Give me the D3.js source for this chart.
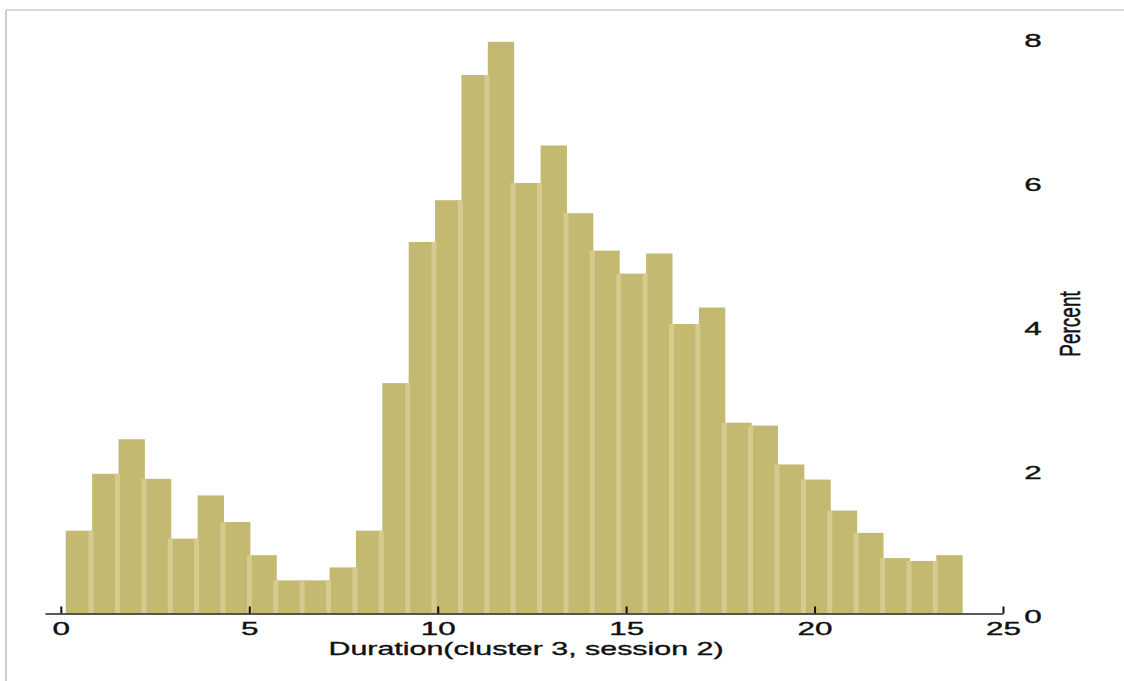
<!DOCTYPE html>
<html>
<head>
<meta charset="utf-8">
<script src="https://cdn.jsdelivr.net/npm/d3@7/dist/d3.min.js"></script>
<style>
  html, body { margin: 0; padding: 0; background: #fff; }
  svg { display: block; }
  text { font-family: "Liberation Sans", Arial, Helvetica, sans-serif; fill: #111; stroke: #111; stroke-width: 0.35px; }
</style>
</head>
<body>
<svg id="chart" width="1124" height="681"></svg>
<script>
// ---- data ----
const binStart = 0.13;          // left edge of first bin (Duration units)
const binWidth = 0.70;          // bin width (Duration units)
const percents = [1.15, 1.94, 2.42, 1.87, 1.04, 1.64, 1.27, 0.81, 0.46, 0.46,
                  0.64, 1.15, 3.20, 5.16, 5.74, 7.48, 7.94, 5.98, 6.50, 5.56,
                  5.04, 4.72, 5.00, 4.02, 4.25, 2.65, 2.61, 2.07, 1.86, 1.43,
                  1.12, 0.77, 0.73, 0.81];
const xTicks = [0, 5, 10, 15, 20, 25];
const yTicks = [0, 2, 4, 6, 8];
const xTitle = "Duration(cluster 3, session 2)";
const yTitle = "Percent";

// ---- layout ----
const svg = d3.select("#chart");
const x = d3.scaleLinear().domain([-0.42, 25]).range([45, 1003]);
const y = d3.scaleLinear().domain([0, 8]).range([613.5, 37.5]);
const stretch = 1.7;   // reference image is horizontally stretched
const barColor = "#c4b970";
const stripColor = "#d5cb8e";

// outer frame (light gray)
svg.append("line").attr("x1", 6).attr("x2", 6).attr("y1", 10).attr("y2", 681)
  .attr("stroke", "#cccccc").attr("stroke-width", 2);
svg.append("line").attr("x1", 6).attr("x2", 1124).attr("y1", 10).attr("y2", 10)
  .attr("stroke", "#cccccc").attr("stroke-width", 1.5);

const bins = percents.map((p, i) => ({
  x0: binStart + i * binWidth,
  x1: binStart + (i + 1) * binWidth,
  v: p,
  prev: i > 0 ? percents[i - 1] : null
}));

// bars
svg.append("g").selectAll("rect.bar").data(bins).join("rect")
  .attr("class", "bar")
  .attr("x", d => x(d.x0))
  .attr("width", d => x(d.x1) - x(d.x0))
  .attr("y", d => y(d.v))
  .attr("height", d => y(0) - y(d.v))
  .attr("fill", barColor);

// lighter strips at interior bin boundaries
svg.append("g").selectAll("rect.strip").data(bins.filter(d => d.prev !== null)).join("rect")
  .attr("class", "strip")
  .attr("x", d => x(d.x0) - 3.5)
  .attr("width", 5)
  .attr("y", d => y(Math.min(d.v, d.prev)))
  .attr("height", d => y(0) - y(Math.min(d.v, d.prev)))
  .attr("fill", stripColor);

// x axis
const xAxis = d3.axisBottom(x).tickValues(xTicks).tickFormat(d3.format("d"))
  .tickSizeInner(-7).tickSizeOuter(0);
const gx = svg.append("g").attr("transform", `translate(0,${y(0)})`).call(xAxis);
gx.select(".domain").attr("stroke", "#222").attr("stroke-width", 1.6);
gx.selectAll(".tick line").attr("stroke", "#111").attr("stroke-width", 2);
gx.selectAll(".tick text")
  .attr("y", 0).attr("dy", null)
  .attr("transform", `translate(0,21.5) scale(${stretch},1)`)
  .attr("font-size", 18.5)
  .attr("font-family", "Liberation Sans, Arial, sans-serif")
  .attr("fill", "#111");

// y tick labels (right side, no axis line)
svg.append("g").selectAll("text.ytick").data(yTicks).join("text")
  .attr("class", "ytick")
  .attr("text-anchor", "middle")
  .attr("font-size", 18.5)
  .attr("transform", d => `translate(1033,${y(d) + 9}) scale(${stretch},1)`)
  .text(d => d);

// axis titles
svg.append("text")
  .attr("text-anchor", "middle")
  .attr("font-size", 19)
  .attr("transform", `translate(526,655) scale(1.6,1)`)
  .text(xTitle);

svg.append("text")
  .attr("text-anchor", "middle")
  .attr("font-size", 19)
  .attr("transform", `translate(1080,324) scale(1.6,1) rotate(-90)`)
  .text(yTitle);
</script>
</body>
</html>
